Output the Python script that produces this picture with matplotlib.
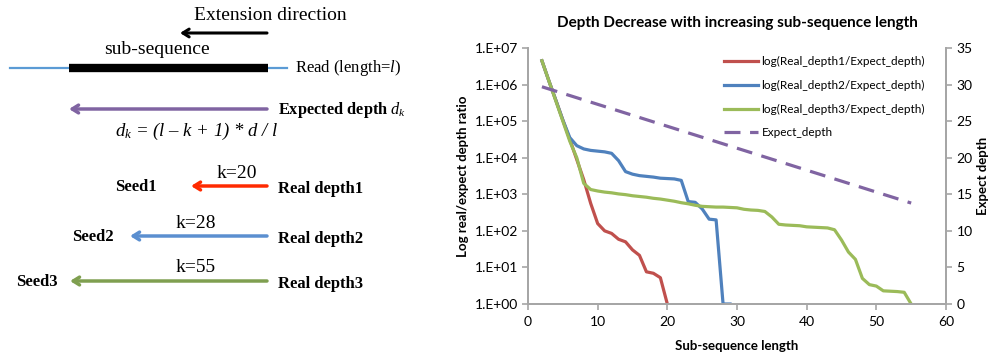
import numpy as np
import matplotlib
matplotlib.use("Agg")
import matplotlib.pyplot as plt

plt.rcParams['font.family'] = ['Lato', 'DejaVu Sans']
plt.rcParams['mathtext.fontset'] = 'custom'
plt.rcParams['mathtext.rm'] = 'Liberation Serif'
plt.rcParams['mathtext.it'] = 'Liberation Serif:italic'
plt.rcParams['mathtext.bf'] = 'Liberation Serif:bold'

# sub-sequence length k
k1 = list(range(2, 21))
k2 = list(range(2, 30))
k3 = list(range(2, 56))

# log10 of real/expect depth ratio
log_ratio1 = [6.65, 6.10, 5.57, 5.03, 4.50, 3.95, 3.40, 2.75, 2.20, 2.00,
              1.93, 1.77, 1.70, 1.48, 1.33, 0.88, 0.84, 0.72, 0.00]
log_ratio2 = [6.65, 6.10, 5.57, 5.03, 4.55, 4.33, 4.24, 4.20, 4.18, 4.16,
              4.12, 3.92, 3.62, 3.55, 3.51, 3.49, 3.47, 3.44, 3.43, 3.42,
              3.38, 2.80, 2.78, 2.60, 2.32, 2.30, 0.00, 0.00]
log_ratio3 = [6.65, 6.10, 5.55, 5.00, 4.45, 4.00, 3.30, 3.13, 3.09, 3.06,
              3.04, 3.01, 2.99, 2.96, 2.94, 2.92, 2.89, 2.87, 2.84, 2.81,
              2.77, 2.74, 2.70, 2.67, 2.66, 2.65, 2.65, 2.64, 2.63, 2.59,
              2.57, 2.56, 2.53, 2.38, 2.18, 2.16, 2.15, 2.14, 2.11, 2.10,
              2.09, 2.08, 2.03, 1.75, 1.42, 1.22, 0.70, 0.53, 0.49, 0.36,
              0.35, 0.34, 0.32, 0.00]

k_expect = [2, 10, 20, 30, 40, 50, 55]
expect_depth = [29.7, 27.3, 24.3, 21.3, 18.3, 15.3, 13.8]

labels = ["log(Real_depth1/Expect_depth)", "log(Real_depth2/Expect_depth)",
          "log(Real_depth3/Expect_depth)", "Expect_depth"]
colors = ["#C0504D", "#4F81BD", "#9BBB59", "#8064A2"]
ytick_labels = ["1.E+00", "1.E+01", "1.E+02", "1.E+03", "1.E+04", "1.E+05", "1.E+06", "1.E+07"]

fig = plt.figure(figsize=(9.92, 3.53), dpi=100)

# ---- left: schematic ----
ax0 = fig.add_axes([0, 0, 430 / 992, 1])
ax0.set_xlim(0, 430)
ax0.set_ylim(353, 0)
ax0.axis('off')
serif = 'Liberation Serif'

def arrow(x0, x1, y, color, lw=2.5):
    ax0.annotate("", xy=(x1, y), xytext=(x0, y),
                 arrowprops=dict(arrowstyle="->,head_length=0.45,head_width=0.28",
                                 color=color, lw=lw, shrinkA=0, shrinkB=0))

ax0.text(270, 16, "Extension direction", family=serif, fontsize=14, ha='center', va='center')
arrow(267, 180, 33, 'black', 2.2)
ax0.text(157, 50, "sub-sequence", family=serif, fontsize=14, ha='center', va='center')
ax0.plot([10, 287], [68, 68], color="#5B9BD5", lw=1.6)
ax0.plot([69, 268], [68, 68], color="black", lw=6, solid_capstyle='butt')
ax0.text(295, 68, "Read (length=$l$)", family=serif, fontsize=12, ha='left', va='center')

arrow(267, 69, 109, "#8064A2", 2.5)
ax0.text(278, 110, r"Expected depth $d_k$", family=serif, fontsize=11.8, fontweight='bold',
         ha='left', va='center')
ax0.text(197, 131, r"$d_k$ = (l – k + 1) * d / l", family=serif, fontsize=13.5,
         style='italic', ha='center', va='center')

rows = [(191, 186, "#FF2A00", "k=20", 237, "Seed1", 136, "Real depth1"),
        (130, 236, "#5B8FD0", "k=28", 196, "Seed2", 93, "Real depth2"),
        (70, 281, "#7F9F50", "k=55", 196, "Seed3", 37, "Real depth3")]
for xend, y, c, ktxt, kx, seed, sx, real in rows:
    arrow(267, xend, y, c, 2.5)
    ax0.text(kx, y - 13, ktxt, family=serif, fontsize=14, ha='center', va='center')
    ax0.text(sx, y + 1, seed, family=serif, fontsize=12, fontweight='bold', ha='center', va='center')
    ax0.text(278, y + 3, real, family=serif, fontsize=12, fontweight='bold', ha='left', va='center')

# ---- right: chart ----
ax = fig.add_axes([528 / 992, 49 / 353, 418 / 992, 256 / 353])
ax2 = ax.twinx()

l1, = ax.plot(k1, 10 ** np.array(log_ratio1), color=colors[0], lw=2.3, solid_joinstyle='round')
l2, = ax.plot(k2, 10 ** np.array(log_ratio2), color=colors[1], lw=2.3, solid_joinstyle='round')
l3, = ax.plot(k3, 10 ** np.array(log_ratio3), color=colors[2], lw=2.3, solid_joinstyle='round')
l4, = ax2.plot(k_expect, expect_depth, color=colors[3], lw=2.3, dashes=(5, 3))

ax.set_yscale('log')
ax.set_ylim(1, 1e7)
ax.set_xlim(0, 60)
ax.set_yticks([10 ** i for i in range(8)])
ax.set_yticklabels(ytick_labels)
ax.minorticks_off()
ax.set_xticks(range(0, 61, 10))
ax2.set_ylim(0, 35)
ax2.set_yticks(range(0, 36, 5))

for a in (ax, ax2):
    for s in a.spines.values():
        s.set_color('#A6A6A6')
        s.set_linewidth(1.3)
    a.spines['top'].set_visible(False)
    a.tick_params(colors='#A6A6A6', labelcolor='black', labelsize=10, length=4, width=1.2)
ax.tick_params(axis='y', pad=3)
ax.tick_params(axis='x', pad=5)

ax.set_title("Depth Decrease with increasing sub-sequence length", fontsize=11, fontweight='bold', pad=15)
ax.set_xlabel("Sub-sequence length", fontsize=9.5, fontweight='bold', labelpad=8)
ax.set_ylabel("Log real/expect depth ratio", fontsize=9.5, fontweight='bold', labelpad=4)
ax2.set_ylabel("Expect depth", fontsize=9.5, fontweight='bold', labelpad=3)

ax.legend([l1, l2, l3, l4], labels, loc='upper right', bbox_to_anchor=(0.975, 1.01),
          frameon=False, fontsize=8.5, handlelength=2.9, handletextpad=0.3, labelspacing=1.08)

fig.savefig("out.png", dpi=100)
